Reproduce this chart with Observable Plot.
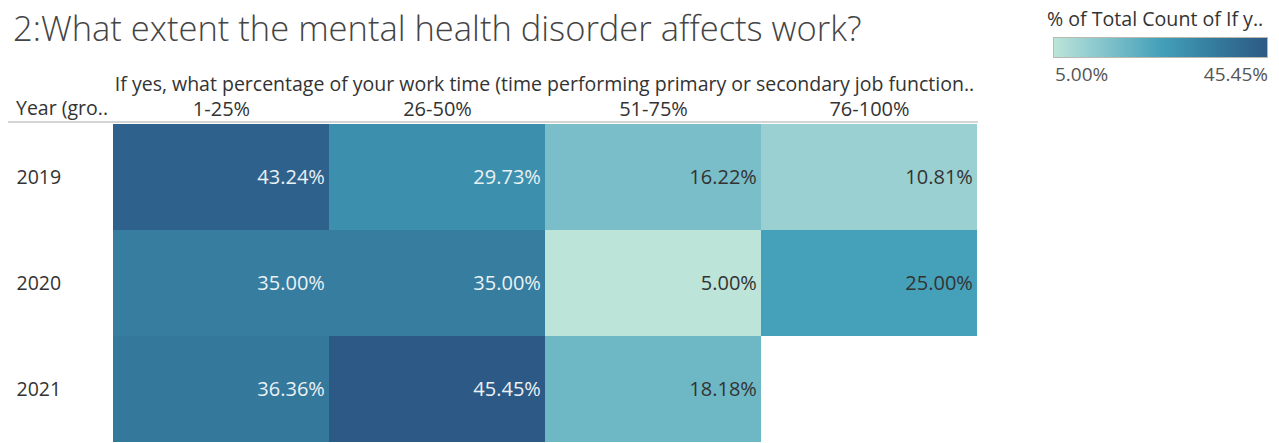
<!DOCTYPE html>
<html>
<head>
<meta charset="utf-8">
<script src="https://cdn.jsdelivr.net/npm/d3@7"></script>
<script src="https://cdn.jsdelivr.net/npm/@observablehq/plot@0.6"></script>
<style>
  body { margin: 0; background: #fff; }
  #wrap { position: relative; width: 1279px; height: 443px; overflow: hidden; font-family: "Open Sans", sans-serif; color: #333; }
  #chart { position: absolute; left: 0; top: 0; }
  .abs { position: absolute; white-space: nowrap; line-height: 1; }
</style>
</head>
<body>
<div id="wrap">
  <div id="chart"></div>
  <div class="abs" id="title" style="left:13px; top:11px; font-size:34.5px; font-weight:300; color:#444;"></div>
  <div class="abs" id="colHeader" style="left:111px; width:867px; top:74px; font-size:19.5px; text-align:center;"></div>
  <div class="abs" id="rowHeader" style="left:16px; top:98px; font-size:19.5px;"></div>
  <div class="abs" style="left:8px; top:121px; width:970px; height:2px; background:#d4d4d4;"></div>
  <div class="abs" id="legTitle" style="left:1047px; top:9px; font-size:19.6px;"></div>
  <div class="abs" id="legBar" style="left:1053px; top:37px; width:213px; height:19px; border:1px solid #b9b9b0;"></div>
  <div class="abs" id="legMin" style="left:1055px; top:65px; font-size:19px; color:#555;"></div>
  <div class="abs" id="legMax" style="right:11px; top:65px; font-size:19px; color:#555;"></div>
</div>
<script>
// ---- data ----
const titleText = "2:What extent the mental health disorder affects work?";
const columnTitle = "If yes, what percentage of your work time (time performing primary or secondary job function..";
const rowTitle = "Year (gro..";
const legendTitle = "% of Total Count of If y..";
const years = ["2019", "2020", "2021"];
const workTime = ["1-25%", "26-50%", "51-75%", "76-100%"];
const share2019 = [43.24, 29.73, 16.22, 10.81];
const share2020 = [35.00, 35.00, 5.00, 25.00];
const share2021 = [36.36, 45.45, 18.18, null];
const palette = ["#bce4d8", "#80c2cb", "#44a0b9", "#357c9f", "#2c5985"];

// ---- build table ----
const byYear = [share2019, share2020, share2021];
const table = years.flatMap((y, i) =>
  byYear[i].map((v, j) => ({ year: y, range: workTime[j], value: v }))
).filter(d => d.value != null);
const extent = d3.extent(table, d => d.value);
const fmt = v => v.toFixed(2) + "%";
const interp = d3.piecewise(d3.interpolateRgb, palette);

const W = 1279, H = 443, mL = 111, mR = 301, mT = 123;
const bw = (W - mL - mR) / workTime.length;

const chart = Plot.plot({
  width: W, height: H,
  marginLeft: mL, marginRight: mR, marginTop: mT, marginBottom: 0,
  style: { fontFamily: "Open Sans, sans-serif", color: "#333", background: "transparent", overflow: "visible" },
  x: { domain: workTime, padding: 0, axis: null },
  y: { domain: years, padding: 0, axis: null },
  color: { type: "linear", domain: extent, interpolate: interp },
  marks: [
    Plot.cell(table, { x: "range", y: "year", fill: "value", inset: 0 }),
    Plot.text(table, {
      x: "range", y: "year", text: d => fmt(d.value),
      textAnchor: "end", dx: bw / 2 - 5, fontSize: 20,
      fill: d => d.value > 27 ? "#eaf1f5" : "#333"
    }),
    Plot.axisX({ anchor: "top", tickSize: 0, tickPadding: 8, label: null, fontSize: 20 }),
    Plot.axisY({ anchor: "left", tickSize: 0, tickPadding: 0, textAnchor: "start", dx: -95, label: null, fontSize: 19.5 })
  ]
});
document.getElementById("chart").appendChild(chart);

document.getElementById("title").textContent = titleText;
document.getElementById("colHeader").textContent = columnTitle;
document.getElementById("rowHeader").textContent = rowTitle;
document.getElementById("legTitle").textContent = legendTitle;
document.getElementById("legBar").style.background =
  "linear-gradient(to right, " + d3.range(0, 1.0001, 0.1).map(t => interp(t)).join(", ") + ")";
document.getElementById("legMin").textContent = fmt(extent[0]);
document.getElementById("legMax").textContent = fmt(extent[1]);
</script>
</body>
</html>
